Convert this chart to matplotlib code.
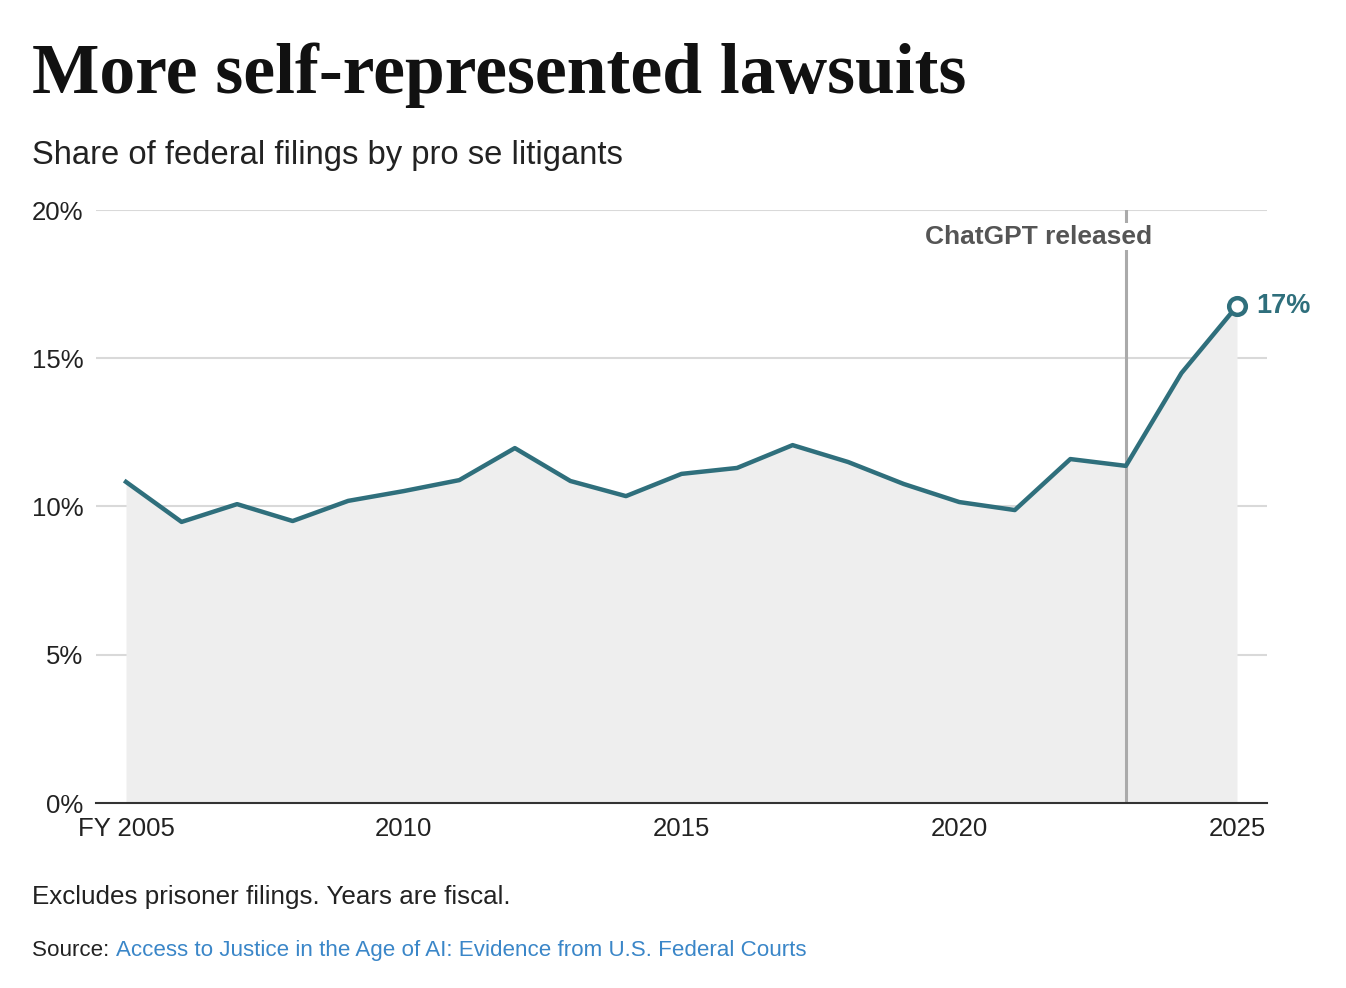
import matplotlib
matplotlib.use("Agg")
import matplotlib.pyplot as plt
import numpy as np

years = np.arange(2005, 2026)
share = [10.83, 9.48, 10.08, 9.51, 10.19, 10.52, 10.89, 11.97, 10.86, 10.35,
         11.10, 11.30, 12.07, 11.50, 10.76, 10.15, 9.88, 11.60, 11.37, 14.50, 16.76]
y_ticks = [0, 5, 10, 15, 20]
y_labels = ["0%", "5%", "10%", "15%", "20%"]
x_ticks = [2005, 2010, 2015, 2020, 2025]
x_labels = ["FY 2005", "2010", "2015", "2020", "2025"]
chatgpt_year = 2023
end_label = "17%"

W, H = 1346, 988
TEAL = "#2f6f7c"
SANS = ["Liberation Sans", "DejaVu Sans"]

fig = plt.figure(figsize=(W / 100, H / 100), dpi=100)
fig.patch.set_facecolor("white")


def fy(py):
    return 1 - py / H


ax = fig.add_axes([96 / W, fy(803), (1267 - 96) / W, (803 - 210) / H])
ax.set_xlim(2005 - 30 / 55.55, 2025 + 30 / 55.55)
ax.set_ylim(0, 20)

for s in ["top", "right", "left"]:
    ax.spines[s].set_visible(False)
ax.spines["bottom"].set_color("#333333")
ax.spines["bottom"].set_linewidth(1.5)
ax.spines["bottom"].set_zorder(5)

ax.set_yticks(y_ticks)
ax.set_yticklabels(y_labels)
ax.set_xticks(x_ticks)
ax.set_xticklabels(x_labels)
ax.tick_params(axis="both", length=0, colors="#222222", labelsize=18.5)
ax.tick_params(axis="y", pad=9)
ax.tick_params(axis="x", pad=10)
for lab in ax.get_xticklabels() + ax.get_yticklabels():
    lab.set_family(SANS)
    lab.set_color("#222222")

for t in y_ticks[1:]:
    ax.axhline(t, color="#d9d9d9", lw=1.5, zorder=0)

ax.fill_between(years, share, 0, color="#eeeeee", lw=0, zorder=1)
ax.plot(years, share, color=TEAL, lw=3.2, solid_joinstyle="round", zorder=4)
ax.plot(years[-1], share[-1], "o", ms=12, mfc="white", mec=TEAL, mew=3.2, zorder=6)
ax.annotate(end_label, (years[-1], share[-1]), xytext=(14, 0), textcoords="offset points",
            va="center", ha="left", fontsize=19.5, fontweight="bold", color=TEAL,
            family=SANS)

ax.axvline(chatgpt_year, color="#aaaaaa", lw=2.2, zorder=3)
ax.text(chatgpt_year + 0.47, 19.1, "ChatGPT released", ha="right", va="center",
        fontsize=19, fontweight="bold", color="#555555", family=SANS,
        bbox=dict(facecolor="white", edgecolor="none", pad=1), zorder=7)

fig.text(32 / W, fy(93), "More self-represented lawsuits", ha="left", va="baseline",
         fontsize=51.5, fontweight="bold", color="#111111",
         family=["Liberation Serif", "DejaVu Serif"])
fig.text(32 / W, fy(164), "Share of federal filings by pro se litigants", ha="left",
         va="baseline", fontsize=23.6, color="#222222", family=SANS)
fig.text(32 / W, fy(904), "Excludes prisoner filings. Years are fiscal.", ha="left",
         va="baseline", fontsize=18.7, color="#222222", family=SANS)

src = fig.text(32 / W, fy(956), "Source: ", ha="left", va="baseline",
               fontsize=16.1, color="#222222", family=SANS)
r = fig.canvas.get_renderer()
bb = src.get_window_extent(renderer=r)
fig.text(bb.x1 / W, fy(956), "Access to Justice in the Age of AI: Evidence from U.S. Federal Courts",
         ha="left", va="baseline", fontsize=16.1, color="#3a86c8", family=SANS)

fig.savefig("out.png", dpi=100)
